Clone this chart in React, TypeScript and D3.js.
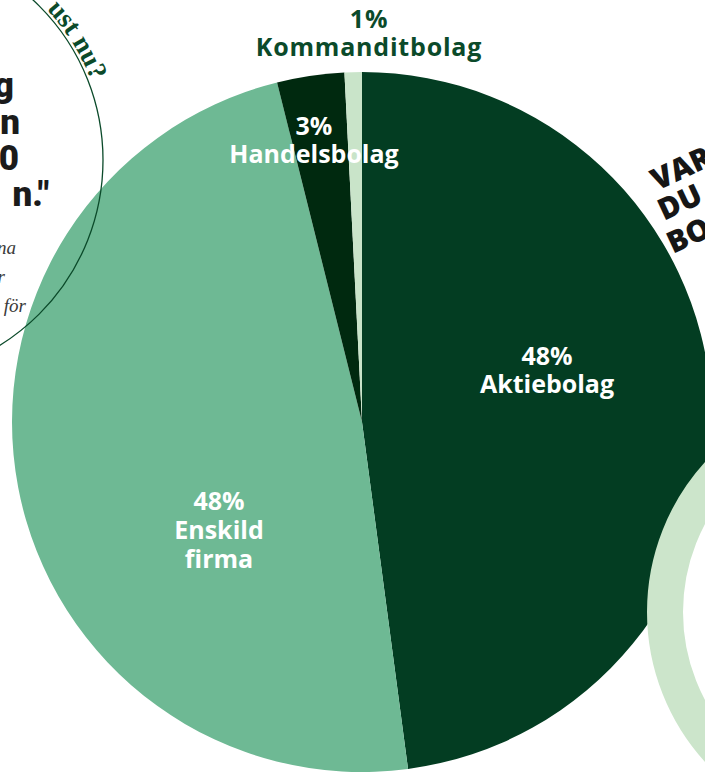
import React from "react";
import * as d3 from "d3";

// ---- data ----
const categories = ["Aktiebolag", "Enskild firma", "Handelsbolag", "Kommanditbolag"];
const values = [47.9, 48.2, 3.1, 0.8];
const percentLabels = ["48%", "48%", "3%", "1%"];
const nameLines = [["Aktiebolag"], ["Enskild", "firma"], ["Handelsbolag"], ["Kommanditbolag"]];
const sliceColors = ["#033d22", "#6eb994", "#00290f", "#c9e4c9"];
const labelColors = ["#ffffff", "#ffffff", "#ffffff", "#0b4a2a"];

// ---- layout ----
const W = 705;
const H = 772;
const CX = 362;
const CY = 422;
const R = 350;
// label anchor (center x, baseline y of first line)
const labelPos: [number, number][] = [
  [547, 365],
  [219, 510],
  [314, 135],
  [369, 28],
];
const labelSpacing = [0, 0, 0, 0.8];
const LINE = 29;

export default function App() {
  const pie = d3
    .pie<number>()
    .sort(null)
    .value((d) => d)
    .startAngle(0)
    .endAngle(2 * Math.PI);
  const arcs = pie(values);
  const arc = d3.arc<d3.PieArcDatum<number>>().innerRadius(0).outerRadius(R);

  // top-left decorative circle
  const ccx = -115;
  const ccy = 160;
  const cr = 218;
  const tr = cr + 3;
  const a0 = (-80 * Math.PI) / 180;
  const a1 = (10 * Math.PI) / 180;
  const textArc = `M${ccx + tr * Math.cos(a0)},${ccy + tr * Math.sin(a0)} A${tr},${tr} 0 0 1 ${
    ccx + tr * Math.cos(a1)
  },${ccy + tr * Math.sin(a1)}`;
  const endOffset = ((59 * Math.PI) / 180) * tr;

  const quoteLines = [
    { t: "g", x: 14, y: 97 },
    { t: "n", x: 20, y: 134 },
    { t: "0", x: 19, y: 170 },
    { t: 'n."', x: 49, y: 206 },
  ];
  const italicLines = [
    { t: "na", x: 16, y: 254 },
    { t: "r", x: 5, y: 283 },
    { t: "för", x: 26, y: 312 },
  ];
  const rightLines = [
    { t: "VAR", x: 657, y: 191 },
    { t: "DU", x: 664, y: 221 },
    { t: "BO", x: 673, y: 254 },
  ];

  return (
    <svg
      width={W}
      height={H}
      viewBox={`0 0 ${W} ${H}`}
      style={{ position: "absolute", left: 0, top: 0, background: "#ffffff", overflow: "hidden" }}
    >
      <rect x={0} y={0} width={W} height={H} fill="#ffffff" />
      <g transform={`translate(${CX},${CY})`}>
        {arcs.map((a, i) => (
          <path key={categories[i]} d={arc(a) || ""} fill={sliceColors[i]} />
        ))}
      </g>

      {/* top-left circle outline and its text */}
      <circle cx={ccx} cy={ccy} r={cr} fill="none" stroke="#0b4a2a" strokeWidth={1.3} />
      <path id="circText" d={textArc} fill="none" />
      <text
        fontFamily="'Liberation Serif', serif"
        fontWeight={700}
        fontSize={27}
        fill="#0b4a2a"
      >
        <textPath href="#circText" startOffset={endOffset} textAnchor="end">
          ust nu?
        </textPath>
      </text>

      {quoteLines.map((l) => (
        <text
          key={l.t}
          x={l.x}
          y={l.y}
          textAnchor="end"
          fontFamily="Roboto, sans-serif"
          fontWeight={900}
          fontSize={35}
          fill="#1b1b1b"
        >
          {l.t}
        </text>
      ))}
      {italicLines.map((l) => (
        <text
          key={l.t}
          x={l.x}
          y={l.y}
          textAnchor="end"
          fontFamily="'Liberation Serif', serif"
          fontStyle="italic"
          fontSize={19}
          fill="#3a3a3a"
        >
          {l.t}
        </text>
      ))}
      {rightLines.map((l) => (
        <text
          key={l.t}
          transform={`translate(${l.x},${l.y}) rotate(-25)`}
          fontFamily="'Open Sans', sans-serif"
          fontWeight={800}
          fontSize={30}
          fill="#161616"
        >
          {l.t}
        </text>
      ))}

      {/* bottom-right ring */}
      <circle cx={870} cy={612} r={205} fill="#ffffff" stroke="#cce5cb" strokeWidth={36} />

      {/* slice labels */}
      {categories.map((c, i) => {
        const [lx, ly] = labelPos[i];
        return (
          <text
            key={c}
            textAnchor="middle"
            fontFamily="'Open Sans', sans-serif"
            fontWeight={700}
            fontSize={25}
            letterSpacing={labelSpacing[i]}
            fill={labelColors[i]}
          >
            <tspan x={lx} y={ly}>
              {percentLabels[i]}
            </tspan>
            {nameLines[i].map((n, j) => (
              <tspan key={n} x={lx} y={ly + (j + 1) * LINE - (nameLines[i].length === 1 ? 1 : 0)}>
                {n}
              </tspan>
            ))}
          </text>
        );
      })}
    </svg>
  );
}
